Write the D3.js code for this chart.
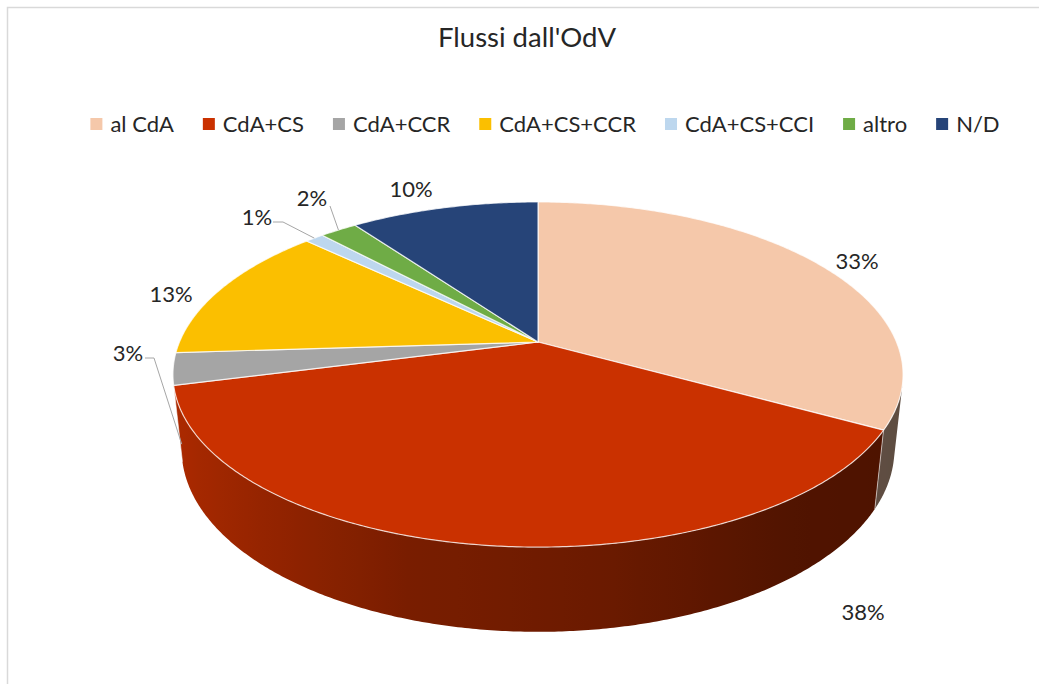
<!DOCTYPE html>
<html>
<head>
<meta charset="utf-8">
<script src="https://cdn.jsdelivr.net/npm/d3@7"></script>
<style>
  html, body { margin: 0; padding: 0; background: #fff; }
  svg { display: block; }
  text { font-family: Lato, "Open Sans", sans-serif; fill: #262626; }
</style>
</head>
<body>
<svg id="chart" width="1039" height="684"></svg>
<script>
// Flows by outcome category (share of total, %)
const categories = ["al CdA", "CdA+CS", "CdA+CCR", "CdA+CS+CCR", "CdA+CS+CCI", "altro", "N/D"];
const values = [33, 38, 3, 13, 1, 2, 10];
const colors = ["#F5C8AA", "#CA3100", "#A5A5A5", "#FBBF00", "#BDD7EE", "#6FAC46", "#264478"];
const chartTitle = "Flussi dall'OdV";

const W = 1039, H = 684;
const svg = d3.select("#chart");
const defs = svg.append("defs");

// chart frame
svg.append("rect")
  .attr("x", 7.5).attr("y", 7.5)
  .attr("width", W + 40).attr("height", H + 40)
  .attr("fill", "#fff").attr("stroke", "#D9D9D9").attr("stroke-width", 1.5);

// title
svg.append("text")
  .attr("x", 527).attr("y", 47)
  .attr("text-anchor", "middle")
  .style("font-size", "27.5px")
  .text(chartTitle);

// legend, laid out left to right and centred
const legendGap = 29;
const legend = svg.append("g");
const legendItems = legend.selectAll("g").data(categories).join("g");
legendItems.append("rect")
  .attr("width", 12).attr("height", 12)
  .attr("y", 118)
  .attr("fill", (d, i) => colors[i]);
legendItems.append("text")
  .attr("x", 20).attr("y", 132)
  .style("font-size", "22px")
  .text(d => d);
let lx = 0;
legendItems.each(function () {
  const g = d3.select(this);
  g.attr("transform", `translate(${lx},0)`);
  lx += 20 + g.select("text").node().getComputedTextLength() + legendGap;
});
const legendWidth = lx - legendGap;
legend.attr("transform", `translate(${545 - legendWidth / 2},0)`);

// perspective projection of a tilted disc
const cx = 538, cy = 342;          // screen position of the disc centre (top face)
const focal = 1685, dist = 4.70;   // camera focal length and distance (disc radius = 1)
const tilt = Math.asin(0.4643);
const thick = 0.238;               // disc thickness
const sT = Math.sin(tilt), cT = Math.cos(tilt);

function project(angle, r, y) {
  const X = r * Math.sin(angle), Z = -r * Math.cos(angle);
  const yc = y * cT - Z * sT, zc = y * sT + Z * cT;
  const w = dist - zc;
  return [cx + focal * X / w, cy - focal * yc / w];
}

const pie = d3.pie().sort(null).value(d => d)
  .startAngle(0).endAngle(2 * Math.PI);
const arcs = pie(values);

const line = d3.line();
const step = Math.PI / 360;

// outer side: only the part facing the camera, shaded left (light) to right (dark)
const visibleZ = 1 / (dist * cT);
const visA0 = Math.acos(-visibleZ), visA1 = 2 * Math.PI - visA0;
const shade = d3.scaleLinear()
  .domain([-1, -0.3, 0.15, 0.6, 1])
  .range([0.87, 0.6, 0.53, 0.4, 0.38]);

const side = svg.append("g");
arcs.forEach((a, i) => {
  const t0 = Math.max(a.startAngle, visA0), t1 = Math.min(a.endAngle, visA1);
  if (t1 <= t0) return;
  const angles = d3.range(t0, t1, step).concat([t1]);
  const topPts = angles.map(t => project(t, 1, 0));
  const botPts = angles.map(t => project(t, 1, -thick)).reverse();
  const xs = topPts.map(p => p[0]).concat(botPts.map(p => p[0]));
  const xMin = d3.min(xs), xMax = d3.max(xs);
  const gid = "side" + i;
  const grad = defs.append("linearGradient")
    .attr("id", gid).attr("gradientUnits", "userSpaceOnUse")
    .attr("x1", xMin).attr("x2", xMax).attr("y1", 0).attr("y2", 0);
  const stops = d3.range(0, 41).map(k => t0 + (t1 - t0) * k / 40)
    .map(t => ({ x: project(t, 1, 0)[0], f: shade(Math.sin(t)) }))
    .sort((p, q) => p.x - q.x);
  stops.forEach(s => {
    grad.append("stop")
      .attr("offset", xMax > xMin ? Math.max(0, Math.min(1, (s.x - xMin) / (xMax - xMin))) : 0)
      .attr("stop-color", d3.interpolateRgb("#000", colors[i])(s.f));
  });
  side.append("path")
    .attr("d", line(topPts.concat(botPts)) + "Z")
    .attr("fill", `url(#${gid})`);
});

// slice edges on the side
arcs.forEach(a => {
  if (-Math.cos(a.startAngle) > visibleZ) {
    side.append("path")
      .attr("d", line([project(a.startAngle, 1, 0), project(a.startAngle, 1, -thick)]))
      .attr("stroke", "#fff").attr("stroke-opacity", 0.55).attr("stroke-width", 1);
  }
});

// top face
const topFace = svg.append("g");
arcs.forEach((a, i) => {
  const pts = [project(0, 0, 0)];
  for (let t = a.startAngle; t < a.endAngle; t += step) pts.push(project(t, 1, 0));
  pts.push(project(a.endAngle, 1, 0));
  topFace.append("path")
    .attr("d", line(pts) + "Z")
    .attr("fill", colors[i])
    .attr("stroke", "#fff").attr("stroke-opacity", 0.75)
    .attr("stroke-width", 1.2).attr("stroke-linejoin", "round");
});

// data labels
const fmt = d3.format(".0%");
const total = d3.sum(values);
const labelPos = [[857, 260], [863, 611], [128, 352], [171, 293], [257, 216], [312, 197], [411, 188]];
svg.append("g").selectAll("text").data(arcs).join("text")
  .attr("x", (d, i) => labelPos[i][0])
  .attr("y", (d, i) => labelPos[i][1])
  .attr("text-anchor", "middle")
  .attr("dominant-baseline", "central")
  .style("font-size", "22px")
  .text(d => fmt(d.value / total));

// leader lines for the small slices
const leaders = [
  { i: 2, from: [[145, 358], [154, 358]], level: -thick },
  { i: 4, from: [[273, 222], [283, 222]], level: 0 },
  { i: 5, from: [[330, 206]], level: 0 }
];
leaders.forEach(l => {
  const a = arcs[l.i];
  const end = project((a.startAngle + a.endAngle) / 2, 1, l.level);
  svg.append("path")
    .attr("d", line([...l.from, end]))
    .attr("fill", "none").attr("stroke", "#A6A6A6").attr("stroke-width", 1);
});
</script>
</body>
</html>
